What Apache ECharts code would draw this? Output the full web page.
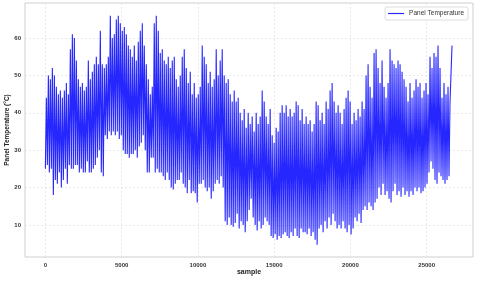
<!DOCTYPE html>
<html><head><meta charset="utf-8">
<script src="https://cdn.jsdelivr.net/npm/echarts@6/dist/echarts.min.js"></script>
<style>html,body{margin:0;padding:0;background:#fff}#c{width:480px;height:282px}</style>
</head><body><div id="c"></div>
<script>
// Daily envelope (one high/low pair per ~131 samples)
const dailyHigh = [
 44,50,49,52,50,47,45,46,44,46,
 48,45,57,61,60,54,49,47,48,46,
 47,54,49,51,53,55,53,62,53,52,
 53,55,66,60,61,65,66,64,62,63,
 61,58,57,55,58,54,59,62,64,58,
 53,49,45,47,64,66,62,56,57,54,
 53,55,52,54,55,49,47,50,55,57,
 52,48,51,45,48,44,45,47,58,55,
 53,48,51,47,49,57,50,54,57,50,
 48,49,45,43,46,43,44,40,38,41,
 36,40,37,39,35,40,37,39,46,43,
 39,37,41,34,32,36,35,40,42,40,
 42,39,41,39,40,43,42,38,41,37,
 39,37,38,35,37,43,42,38,40,37,
 43,41,46,48,43,40,42,40,37,41,
 44,46,43,37,40,38,41,39,43,41,
 50,53,47,44,56,57,52,48,54,47,
 44,48,57,54,53,52,54,53,51,49,
 47,43,48,44,46,49,47,48,44,46,
 48,45,55,52,56,55,58,52,44,48,
 45,47,43,58
];
const dailyLow = [
 25,26,24,25,18,22,21,24,20,22,
 25,21,26,25,25,26,26,24,25,24,
 24,27,24,24,25,26,28,30,24,23,
 34,33,35,34,35,34,35,33,34,30,
 29,29,28,29,29,30,28,31,32,34,
 30,24,24,28,28,24,25,24,24,23,
 22,24,22,20,19.5,21,22,22,24,21,
 20,18.5,22,18.5,19,18.5,16,21,21,22,
 20,19,20,17,19,21,22,21,23,20,
 11,10,12,10,9.5,10.5,13,9,11,10,
 8,11,14,17,12,10,8.5,11,9,10,
 12,11,10,7,6.5,7.5,6,7,6.5,7.5,
 8,7,6.5,8,7,9,7,6.5,9,8,
 8,7.5,9,7,8,6,4.7,9,10,8,
 11,9,12,10,13,11,9,10,9,11,
 9,8,10,7.4,9,12,11,13,10.5,14,
 15,14,16,15,14,16,17,20,18,21,
 18,19,17,16,19,21,18,19,17.5,20,
 18,19,17.5,19,18,20,19,20,18.5,19,
 20,21,24,27,25,22,21,24,23,22,
 21,22,23,43
];
const samplesPerPair = 131;
const xTicks = [0, 5000, 10000, 15000, 20000, 25000];
const yTicks = [10, 20, 30, 40, 50, 60];

const seriesData = [];
for (let i = 0; i < dailyHigh.length; i++) {
  seriesData.push([i * samplesPerPair, dailyLow[i]]);
  seriesData.push([i * samplesPerPair + Math.round(samplesPerPair / 2), dailyHigh[i]]);
}

const font = '"Liberation Sans", Arial, sans-serif';
const gridLine = {color: '#e2e2e2', width: 0.8, type: [2, 2]};
const chart = echarts.init(document.getElementById('c'), null, {renderer: 'canvas'});
chart.setOption({
  animation: false,
  backgroundColor: '#fff',
  grid: {left: 25, right: 7, top: 3, bottom: 25, show: true, borderColor: '#cfcfcf', borderWidth: 1,
         containLabel: false, outerBoundsMode: 'none'},
  legend: {
    right: 12, top: 7, padding: [3, 4, 3, 3],
    backgroundColor: '#fff', borderColor: '#dddddd', borderWidth: 1, borderRadius: 2,
    itemWidth: 16, itemHeight: 1.2, itemGap: 4,
    textStyle: {fontFamily: font, fontSize: 6.5, color: '#333'},
    data: [{name: 'Panel Temperature', icon: 'rect', itemStyle: {color: '#2a2aff'}}]
  },
  xAxis: {
    type: 'value', min: -1335, max: 28035,
    name: 'sample', nameLocation: 'middle', nameGap: 12, nameMoveOverlap: false,
    nameTextStyle: {fontFamily: font, fontSize: 7, fontWeight: 'bold', color: '#222'},
    axisLine: {show: false}, axisTick: {show: false}, splitLine: {show: false},
    axisLabel: {customValues: xTicks, formatter: v => String(v), fontFamily: font, fontSize: 6, color: '#333', margin: 5, fontWeight: 'bold'}
  },
  yAxis: {
    type: 'value', min: 1.4, max: 69.4,
    name: 'Panel Temperature (°C)', nameLocation: 'middle', nameGap: 14, nameMoveOverlap: false,
    nameTextStyle: {fontFamily: font, fontSize: 6.5, fontWeight: 'bold', color: '#222'},
    axisLine: {show: false}, axisTick: {show: false}, splitLine: {show: false},
    axisLabel: {customValues: yTicks, formatter: v => String(v), fontFamily: font, fontSize: 6, color: '#333', margin: 4, fontWeight: 'bold'}
  },
  series: [
    {
      type: 'line', name: 'grid', data: [], z: 0, silent: true,
      markLine: {
        z: 0, silent: true, symbol: 'none', label: {show: false}, animation: false,
        lineStyle: gridLine,
        data: xTicks.map(v => ({xAxis: v})).concat(yTicks.map(v => ({yAxis: v})))
      }
    },
    {
      type: 'line', name: 'Panel Temperature', data: seriesData, z: 3,
      showSymbol: false, symbol: 'none',
      color: '#0000ff',
      lineStyle: {color: 'rgba(0,0,255,0.85)', width: 1.1}
    }
  ]
});
</script></body></html>
